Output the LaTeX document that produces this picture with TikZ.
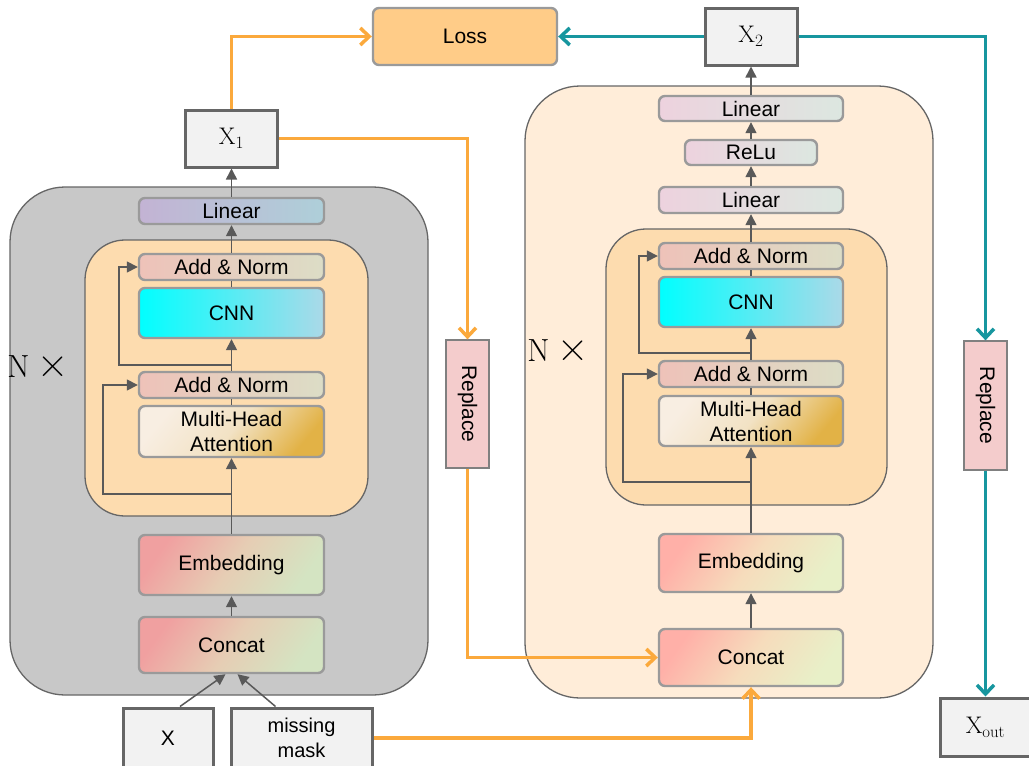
\documentclass[tikz,border=0pt]{standalone}
\usepackage{fontspec}
\setsansfont{Liberation Sans}
\usetikzlibrary{arrows.meta}
\definecolor{gline}{HTML}{595959}
\definecolor{bbord}{HTML}{9A9A9A}
\definecolor{xbord}{HTML}{666666}
\definecolor{xfill}{HTML}{F2F2F2}
\definecolor{orng}{HTML}{FBA93C}
\definecolor{teal2}{HTML}{17969F}
\definecolor{lgray}{HTML}{C8C8C8}
\definecolor{peach}{HTML}{FDDCAF}
\definecolor{lpeach}{HTML}{FFEDD9}
\definecolor{lossf}{HTML}{FFCC88}
\definecolor{replf}{HTML}{F4CCCC}
\definecolor{linA}{HTML}{C3B3D4}
\definecolor{linB}{HTML}{AECFD9}
\definecolor{anA}{HTML}{EEC2B9}
\definecolor{anB}{HTML}{DCDDC6}
\definecolor{cnnA}{HTML}{00FFFF}
\definecolor{cnnB}{HTML}{ABD9E8}
\definecolor{mhaA}{HTML}{F8EEE2}
\definecolor{mhaM}{HTML}{F2E2C4}
\definecolor{mhaB}{HTML}{E2B246}
\definecolor{embA}{HTML}{F0A0A0}
\definecolor{embM}{HTML}{E6CDB4}
\definecolor{embB}{HTML}{D4E4C2}
\definecolor{rembA}{HTML}{FFB0A8}
\definecolor{rembM}{HTML}{F6DCBC}
\definecolor{rembB}{HTML}{E8F0C8}
\definecolor{rlinA}{HTML}{EDD2DE}
\definecolor{rlinB}{HTML}{DCE7E0}
\tikzset{
  blk/.style={draw=bbord, line width=2.4pt, rounded corners=6pt, inner sep=0pt,
    font=\sffamily\fontsize{21}{25}\selectfont, align=center},
  xbox/.style={draw=xbord, line width=3pt, fill=xfill, inner sep=0pt,
    font=\fontsize{24}{28}\selectfont},
  cont/.style={draw=xbord, line width=1.3pt, inner sep=0pt},
  glink/.style={draw=gline, line width=1.5pt},
  garrow/.style={glink, -{Triangle[length=11pt,width=11pt]}},
  oarrow/.style={draw=orng, line width=3.5pt, -{Straight Barb[length=9pt,width=17pt,line width=3.5pt]}},
  tarrow/.style={draw=teal2, line width=3.5pt, -{Straight Barb[length=9pt,width=17pt,line width=3.5pt]}},
  nx/.style={font=\fontsize{32}{34}\selectfont, inner sep=0pt},
  repl/.style={draw=gray, line width=1.3pt, fill=replf, inner sep=0pt,
    minimum width=43pt, minimum height=128pt},
  linsh/.style={left color=linA, right color=linB},
  ansh/.style={left color=anA, right color=anB},
  cnnsh/.style={left color=cnnA, right color=cnnB},
  mhash/.style={top color=mhaA, bottom color=mhaB, middle color=mhaM, shading angle=50},
  embsh/.style={top color=embA, bottom color=embB, middle color=embM, shading angle=55},
  rembsh/.style={top color=rembA, bottom color=rembB, middle color=rembM, shading angle=55},
  rlinsh/.style={left color=rlinA, right color=rlinB}
}
\begin{document}
\begin{tikzpicture}[x=1pt,y=-1pt]
\useasboundingbox (0,0) rectangle (1029,766);
% containers
\node[cont, fill=lgray, rounded corners=55pt, minimum width=418pt, minimum height=508pt] (Lbig) at (219,441) {};
\node[cont, fill=peach, rounded corners=40pt, minimum width=283pt, minimum height=276pt] (Lin) at (226.5,378) {};
\node[cont, fill=lpeach, rounded corners=55pt, minimum width=408pt, minimum height=612pt] (Rbig) at (729,392) {};
\node[cont, fill=peach, rounded corners=40pt, minimum width=281pt, minimum height=276pt] (Rin) at (746.5,367) {};
% N x
\node[nx] (Nl) at (38,367) {N\kern8pt\scalebox{1.35}{×}};
\node[nx] (Nr) at (558,351) {N\kern8pt\scalebox{1.35}{×}};
% left column
\node[blk, linsh, minimum width=185pt, minimum height=26pt] (Llin) at (231.5,211) {Linear};
\node[blk, ansh, minimum width=185pt, minimum height=26pt] (Lan2) at (231.5,267) {Add \& Norm};
\node[blk, cnnsh, minimum width=185pt, minimum height=50pt] (Lcnn) at (231.5,313) {CNN};
\node[blk, ansh, minimum width=185pt, minimum height=26pt] (Lan1) at (231.5,385) {Add \& Norm};
\node[blk, mhash, minimum width=185pt, minimum height=51pt] (Lmha) at (231.5,431.5) {Multi-Head\\Attention};
\node[blk, embsh, minimum width=185pt, minimum height=60pt] (Lemb) at (231.5,565) {Embedding};
\node[blk, embsh, minimum width=185pt, minimum height=56pt] (Lcat) at (231.5,645) {Concat};
% right column
\node[blk, rlinsh, minimum width=184pt, minimum height=25pt] (Rlin2) at (751,108.5) {Linear};
\node[blk, rlinsh, minimum width=132pt, minimum height=25pt] (Rrelu) at (751,152.5) {ReLu};
\node[blk, rlinsh, minimum width=184pt, minimum height=26pt] (Rlin1) at (751,200) {Linear};
\node[blk, ansh, minimum width=184pt, minimum height=26pt] (Ran2) at (751,256) {Add \& Norm};
\node[blk, cnnsh, minimum width=184pt, minimum height=50pt] (Rcnn) at (751,302) {CNN};
\node[blk, ansh, minimum width=184pt, minimum height=26pt] (Ran1) at (751,374) {Add \& Norm};
\node[blk, mhash, minimum width=184pt, minimum height=50pt] (Rmha) at (751,421) {Multi-Head\\Attention};
\node[blk, rembsh, minimum width=184pt, minimum height=58pt] (Remb) at (751,563) {Embedding};
\node[blk, rembsh, minimum width=184pt, minimum height=57pt] (Rcat) at (751,657.5) {Concat};
% top boxes
\node[blk, fill=lossf, minimum width=184pt, minimum height=57pt] (Loss) at (465,36.5) {Loss};
\node[xbox, minimum width=92pt, minimum height=57pt] (X2) at (751,36.5) {$\mathrm{X}_2$};
\node[xbox, minimum width=92pt, minimum height=57pt] (X1) at (231.5,138.5) {$\mathrm{X}_1$};
\node[xbox, minimum width=90pt, minimum height=60pt, font=\sffamily\fontsize{21}{25}\selectfont] (X) at (168,738) {X};
\node[xbox, minimum width=141pt, minimum height=60pt, font=\sffamily\fontsize{20}{25}\selectfont, align=center] (mask) at (301.5,738) {missing\\mask};
\node[xbox, minimum width=90pt, minimum height=58pt] (Xout) at (985.5,727) {$\mathrm{X}_{\mathrm{out}}$};
\node[repl] (ReL) at (467.5,404) {\rotatebox{-90}{\sffamily\fontsize{21}{25}\selectfont Replace}};
\node[repl, minimum height=129pt] (ReR) at (985.5,405.5) {\rotatebox{-90}{\sffamily\fontsize{21}{25}\selectfont Replace}};
% left connectors
\draw[garrow] (Lcat.north) -- (Lemb.south);
\draw[garrow] (Lemb.north) -- (Lmha.south);
\draw[garrow] (231.5,494) -| (103,385) -- (Lan1.west);
\draw[glink] (Lmha.north) -- (Lan1.south);
\draw[garrow] (Lan1.north) -- (Lcnn.south);
\draw[garrow] (231.5,365) -| (119,267) -- (Lan2.west);
\draw[glink] (Lcnn.north) -- (Lan2.south);
\draw[garrow] (Lan2.north) -- (Llin.south);
\draw[garrow] (Llin.north) -- (X1.south);
\draw[garrow] ([xshift=12pt]X.north) -- ([xshift=-6pt]Lcat.south);
\draw[garrow] ([xshift=-26pt]mask.north) -- ([xshift=6pt]Lcat.south);
% right connectors
\draw[garrow] (Rcat.north) -- (Remb.south);
\draw[garrow] (Remb.north) -- (Rmha.south);
\draw[garrow] (751,482) -| (623,374) -- (Ran1.west);
\draw[glink] (Rmha.north) -- (Ran1.south);
\draw[garrow] (Ran1.north) -- (Rcnn.south);
\draw[garrow] (751,353) -| (639,256) -- (Ran2.west);
\draw[glink] (Rcnn.north) -- (Ran2.south);
\draw[garrow] (Ran2.north) -- (Rlin1.south);
\draw[garrow] (Rlin1.north) -- (Rrelu.south);
\draw[garrow] (Rrelu.north) -- (Rlin2.south);
\draw[garrow] (Rlin2.north) -- (X2.south);
% coloured connectors
\draw[oarrow] (X1.north) |- (Loss.west);
\draw[oarrow] (X1.east) -| (ReL.north);
\draw[oarrow] (ReL.south) |- (Rcat.west);
\draw[oarrow] (mask.east) -| (Rcat.south);
\draw[tarrow] (X2.west) -- (Loss.east);
\draw[tarrow] (X2.east) -| (ReR.north);
\draw[tarrow] (ReR.south) -- (Xout.north);
\end{tikzpicture}
\end{document}
